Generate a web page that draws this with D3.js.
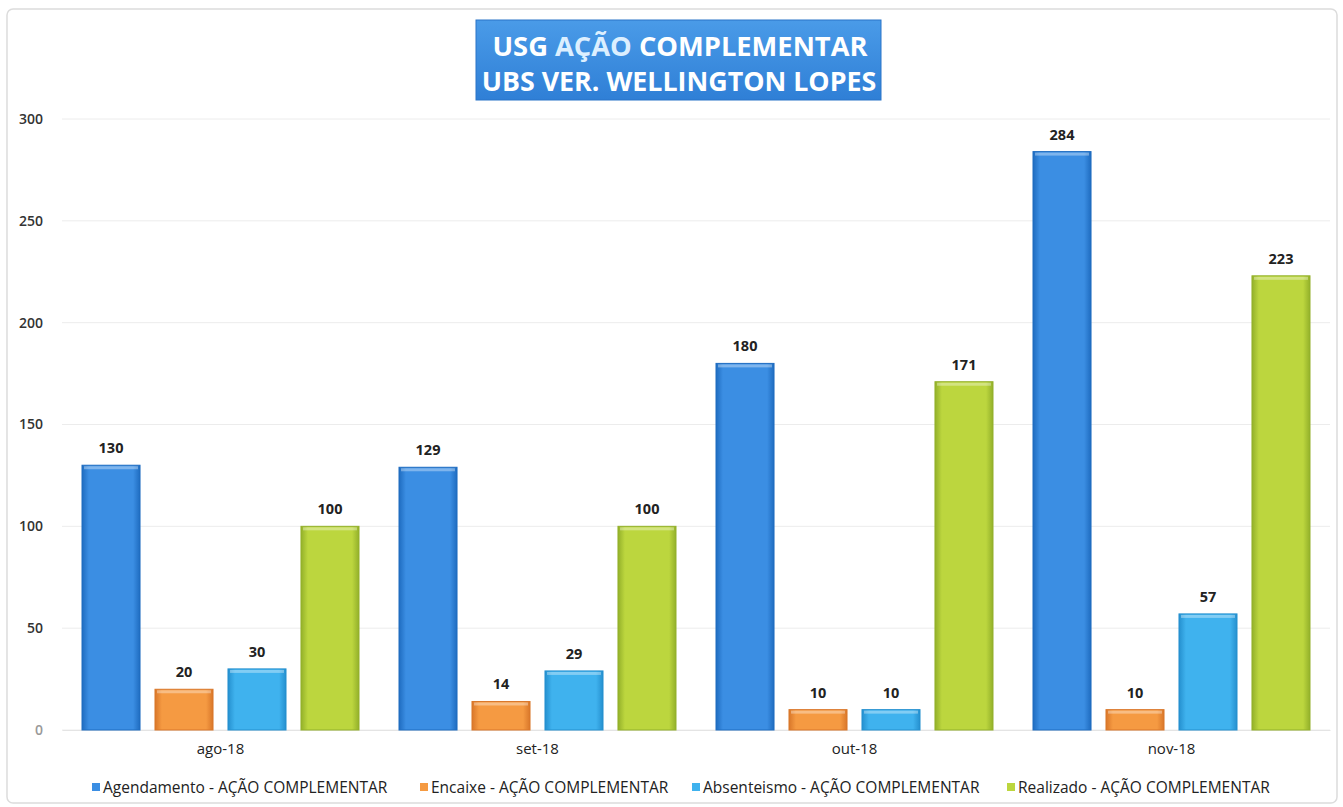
<!DOCTYPE html>
<html>
<head>
<meta charset="utf-8">
<script src="https://cdn.jsdelivr.net/npm/d3@7"></script>
<style>
  body { margin: 0; background: #fff; }
  text { font-family: "Open Sans", Lato, sans-serif; }
</style>
</head>
<body>
<svg id="chart" width="1343" height="807"></svg>
<script>
const months = ["ago-18", "set-18", "out-18", "nov-18"];
const seriesNames = [
  "Agendamento - AÇÃO COMPLEMENTAR",
  "Encaixe - AÇÃO COMPLEMENTAR",
  "Absenteismo - AÇÃO COMPLEMENTAR",
  "Realizado - AÇÃO COMPLEMENTAR"
];
const agendamento = [130, 129, 180, 284];
const encaixe = [20, 14, 10, 10];
const absenteismo = [30, 29, 10, 57];
const realizado = [100, 100, 171, 223];
const yTicks = [0, 50, 100, 150, 200, 250, 300];

const seriesValues = [agendamento, encaixe, absenteismo, realizado];
const colors = ["#3b8ee3", "#f59a42", "#3fb2ee", "#bcd63e"];
const edgeColors = ["#1f6cc0", "#d9772a", "#2590cf", "#93b02a"];

const svg = d3.select("#chart");
const margin = {left: 62, right: 13, top: 119, bottom: 77};
const width = 1343, height = 807;

// chart frame
svg.append("rect")
    .attr("x", 7).attr("y", 9)
    .attr("width", 1330).attr("height", 794)
    .attr("rx", 6)
    .attr("fill", "none")
    .attr("stroke", "#dcdcdc")
    .attr("stroke-width", 1.5);

const defs = svg.append("defs");
colors.forEach((c, i) => {
    const g = defs.append("linearGradient")
        .attr("id", "grad" + i)
        .attr("x1", "0").attr("x2", "1").attr("y1", "0").attr("y2", "0");
    g.append("stop").attr("offset", "0%").attr("stop-color", edgeColors[i]);
    g.append("stop").attr("offset", "12%").attr("stop-color", c);
    g.append("stop").attr("offset", "88%").attr("stop-color", c);
    g.append("stop").attr("offset", "100%").attr("stop-color", edgeColors[i]);
});
const titleGrad = defs.append("linearGradient")
    .attr("id", "titleGrad")
    .attr("x1", "0").attr("x2", "0").attr("y1", "0").attr("y2", "1");
titleGrad.append("stop").attr("offset", "0%").attr("stop-color", "#4a9be8");
titleGrad.append("stop").attr("offset", "100%").attr("stop-color", "#2f7fd6");

const x0 = d3.scaleBand()
    .domain(months)
    .range([margin.left, width - margin.right]);

const x1 = d3.scaleBand()
    .domain(d3.range(seriesNames.length))
    .range([20, x0.bandwidth() - 20])
    .paddingInner(0.205);

const y = d3.scaleLinear()
    .domain([0, 300])
    .range([height - margin.bottom, margin.top]);

// gridlines
svg.append("g")
    .selectAll("line")
    .data(yTicks)
    .join("line")
    .attr("x1", margin.left)
    .attr("x2", width - margin.right)
    .attr("y1", d => y(d))
    .attr("y2", d => y(d))
    .attr("stroke", "#ececec")
    .attr("stroke-width", 1);

// y axis
const yAxis = svg.append("g")
    .attr("transform", `translate(${margin.left - 16},0)`)
    .call(d3.axisLeft(y).tickValues(yTicks).tickSize(0));
yAxis.select(".domain").remove();
yAxis.selectAll("text")
    .attr("font-size", 14)
    .attr("font-weight", 600)
    .attr("fill", d => d === 0 ? "#999" : "#333")
    .attr("font-family", "'Open Sans', sans-serif");

// x axis
const xAxis = svg.append("g")
    .attr("transform", `translate(0,${height - margin.bottom})`)
    .call(d3.axisBottom(x0).tickSize(0).tickPadding(13));
xAxis.select(".domain")
    .attr("stroke", "#e4e4e4");
xAxis.selectAll("text")
    .attr("font-size", 15)
    .attr("fill", "#222")
    .attr("font-family", "'Open Sans', sans-serif");

// bars
const groups = svg.append("g")
    .selectAll("g")
    .data(months)
    .join("g")
    .attr("transform", d => `translate(${x0(d)},0)`);

groups.selectAll("rect.bar")
    .data((m, mi) => seriesValues.map((vals, si) => ({si, v: vals[mi]})))
    .join("rect")
    .attr("class", "bar")
    .attr("x", d => x1(d.si))
    .attr("y", d => y(d.v))
    .attr("width", x1.bandwidth())
    .attr("height", d => y(0) - y(d.v))
    .attr("fill", d => `url(#grad${d.si})`)
    .attr("stroke", d => edgeColors[d.si])
    .attr("stroke-width", 1);

// top highlight
groups.selectAll("rect.hl")
    .data((m, mi) => seriesValues.map((vals, si) => ({si, v: vals[mi]})))
    .join("rect")
    .attr("class", "hl")
    .attr("x", d => x1(d.si) + 2)
    .attr("y", d => y(d.v) + 1)
    .attr("width", x1.bandwidth() - 4)
    .attr("height", 3)
    .attr("fill", "#fff")
    .attr("opacity", 0.35);

// value labels
groups.selectAll("text.val")
    .data((m, mi) => seriesValues.map((vals, si) => ({si, v: vals[mi]})))
    .join("text")
    .attr("class", "val")
    .attr("x", d => x1(d.si) + x1.bandwidth() / 2)
    .attr("y", d => y(d.v) - 12)
    .attr("text-anchor", "middle")
    .attr("font-size", 14.5)
    .attr("font-weight", "bold")
    .attr("fill", "#222")
    .text(d => d.v);

// title box
const title = svg.append("g");
title.append("rect")
    .attr("x", 476).attr("y", 20)
    .attr("width", 405).attr("height", 80)
    .attr("fill", "url(#titleGrad)")
    .attr("stroke", "#2a74c8")
    .attr("stroke-width", 1);
const t1 = title.append("text")
    .attr("x", 680).attr("y", 56)
    .attr("text-anchor", "middle")
    .attr("font-size", 27.3)
    .attr("font-weight", "bold")
    .attr("font-family", "Lato, sans-serif")
    .attr("fill", "#fff");
t1.append("tspan").text("USG ");
t1.append("tspan").attr("fill", "#dcefff").text("AÇÃO");
t1.append("tspan").text(" COMPLEMENTAR");
title.append("text")
    .attr("x", 679).attr("y", 91)
    .attr("text-anchor", "middle")
    .attr("font-size", 26.8)
    .attr("font-weight", "bold")
    .attr("font-family", "Lato, sans-serif")
    .attr("fill", "#fff")
    .text("UBS VER. WELLINGTON LOPES");

// legend
const legendX = [92, 420, 692, 1007];
const legend = svg.append("g")
    .selectAll("g")
    .data(seriesNames)
    .join("g")
    .attr("transform", (d, i) => `translate(${legendX[i]},788)`);
legend.append("rect")
    .attr("x", 0).attr("y", -5)
    .attr("width", 8).attr("height", 8)
    .attr("fill", (d, i) => colors[i]);
legend.append("text")
    .attr("x", 11).attr("y", 0)
    .attr("dy", "0.35em")
    .attr("font-size", 15.5)
    .attr("fill", "#222")
    .text(d => d);
</script>
</body>
</html>
